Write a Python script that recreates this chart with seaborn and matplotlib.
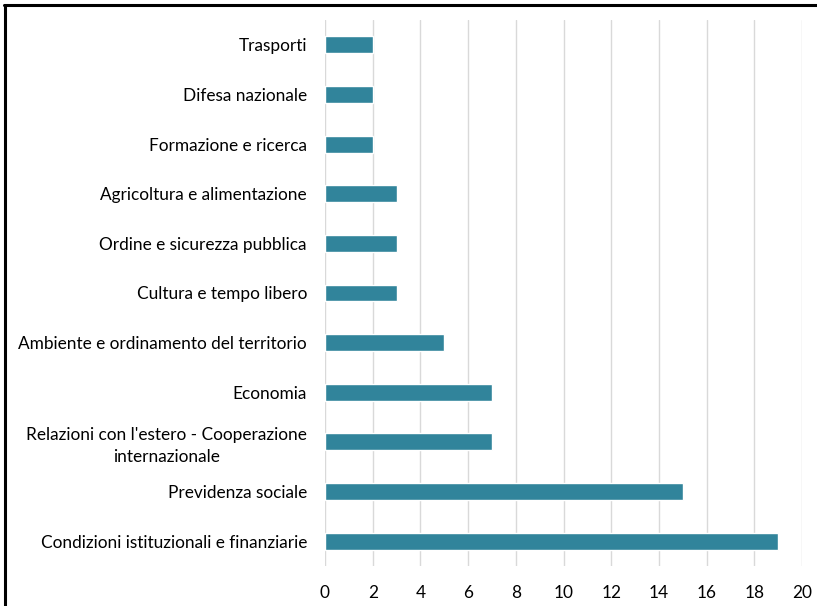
import matplotlib
matplotlib.use("Agg")
import matplotlib.pyplot as plt
import seaborn as sns
import pandas as pd
from matplotlib.lines import Line2D

categories = [
    "Trasporti",
    "Difesa nazionale",
    "Formazione e ricerca",
    "Agricoltura e alimentazione",
    "Ordine e sicurezza pubblica",
    "Cultura e tempo libero",
    "Ambiente e ordinamento del territorio",
    "Economia",
    "Relazioni con l'estero - Cooperazione\ninternazionale",
    "Previdenza sociale",
    "Condizioni istituzionali e finanziarie",
]
values = [2, 2, 2, 3, 3, 3, 5, 7, 7, 15, 19]
xticks = [0, 2, 4, 6, 8, 10, 12, 14, 16, 18, 20]

sns.set_theme(style="white")
plt.rcParams["font.family"] = ["Lato", "DejaVu Sans"]

df = pd.DataFrame({"cat": categories, "val": values})

fig = plt.figure(figsize=(8.17, 6.06), dpi=100)
ax = fig.add_axes([325/817, 1-566/606, (802-325)/817, (566-20)/606])
sns.barplot(data=df, y="cat", x="val", orient="h", color="#31849B",
            saturation=1, width=0.34, ax=ax)

ax.set_xlim(0, 20)
ax.set_ylim(10.5, -0.5)
ax.set_xticks(xticks)
ax.set_xticklabels([str(t) for t in xticks])
ax.set_xlabel("")
ax.set_ylabel("")
ax.grid(axis="x", color="#D9D9D9", linewidth=1)
ax.set_axisbelow(True)
for s in ax.spines.values():
    s.set_visible(False)
ax.tick_params(axis="both", length=0, labelsize=12.4, colors="black")
ax.tick_params(axis="y", pad=13)
ax.tick_params(axis="x", pad=14)
for lbl in ax.get_yticklabels():
    lbl.set_multialignment("center")
    lbl.set_linespacing(1.45)

fig.add_artist(Line2D([5/817, 5/817], [0, 1-5/606], color="black", linewidth=2.2, transform=fig.transFigure))
fig.add_artist(Line2D([4/817, 1], [1-5/606, 1-5/606], color="black", linewidth=2.2, transform=fig.transFigure))

fig.savefig("out.png", dpi=100)
